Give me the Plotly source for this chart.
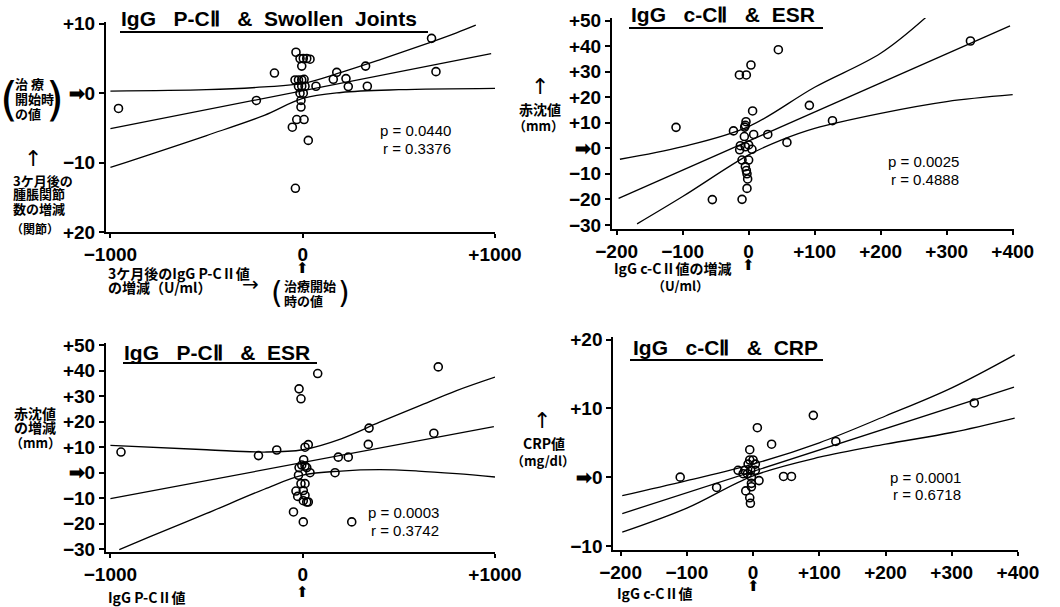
import plotly.graph_objects as go

W, H = 1060, 607


def px(x):
    return x / W


def py(y):
    return 1 - y / H


# ---------------- Panel 1: IgG P-CII & Swollen Joints ----------------
p1_x = [-958, -241, -147, -35, -14, 3, 21, 38, -5, -40, -22, -5, 7, -22, -5, 12,
        -14, 3, -9, -9, -31, 7, -54, 29, -38, 69, 159, 177, 225, 237, 327, 336, 670, 693]
p1_y = [-2.2, -1.05, 2.9, 5.9, 5.0, 5.0, 5.0, 4.9, 3.9, 1.9, 1.9, 1.9, 2.0, 1.0, 1.0, 1.0,
        0.0, 0.0, -1.05, -2.0, -3.8, -3.8, -4.9, -6.8, -13.7, 1.0, 2.0, 3.0, 2.1, 0.95, 3.9, 1.0, 7.9, 3.1]
p1_fit_x = [-1000, 980]
p1_fit_y = [-5.1, 5.7]
p1_up_x = [-1000, -500, -200, 0, 200, 400, 600, 800, 900]
p1_up_y = [0.3, 0.5, 0.9, 1.4, 3.0, 4.8, 6.7, 8.7, 9.8]
p1_lo_x = [-1000, -500, -200, 0, 200, 500, 1000]
p1_lo_y = [-10.7, -6.1, -3.2, -0.76, 0.1, 0.5, 0.7]
p1_xticks = [-1000, 0, 1000]
p1_xlabels = ["−1000", "0", "+1000"]
p1_yticks = [10, 0, -10, -20]
p1_ylabels = ["+10", "➡0", "−10", "+20"]
p1_stats = ["p = 0.0440", "r = 0.3376"]

# ---------------- Panel 2: IgG c-CII & ESR ----------------
p2_x = [-110, -23, -55, -14, -3.5, 3.5, 45, 336, 6, -4, -5, -6, -6.5, 7.6, 29, 58, 92, 127,
        -12.6, -5, 0, 5, -13.6, -10, 0, -5, -3.5, -2.5, -1.5, -2.5, -10]
p2_y = [8.2, 6.8, -20.1, 28.7, 28.7, 32.6, 38.6, 42, 14.6, 10.4, 9, 8.3, 4.6, 5.4, 5.4, 2.3, 16.8, 10.8,
        1, 0.6, 1.3, -0.4, -0.6, -4.6, -4.6, -7.2, -8.7, -10, -12, -15.7, -20]
p2_fit_x = [-197, 396]
p2_fit_y = [-19.6, 47.9]
p2_up_x = [-195, -100, 0, 100, 200, 270]
p2_up_y = [-4.3, 0.65, 8.5, 23.9, 37.2, 51.6]
p2_lo_x = [-169, -100, 0, 50, 100, 200, 300, 400]
p2_lo_y = [-29.6, -18.9, -2.6, 3.3, 7.8, 13.7, 18.3, 21.0]
p2_xticks = [-200, -100, 0, 100, 200, 300, 400]
p2_xlabels = ["−200", "−100", "0", "+100", "+200", "+300", "+400"]
p2_yticks = [50, 40, 30, 20, 10, 0, -10, -20, -30]
p2_ylabels = ["+50", "+40", "+30", "+20", "+10", "➡0", "−10", "−20", "−30"]
p2_stats = ["p = 0.0025", "r = 0.4888"]

# ---------------- Panel 3: IgG P-CII & ESR ----------------
p3_x = [-945, -230, -135, -19, -9, 78, 705, 345, 341, 682, 12, 29, 185, 237, 168, 255, 5, -5, 12,
        -19, 21, 38, -22, -9, 12, -35, 3, -26, 12, 3, 21, 29, -48, 3]
p3_y = [8.1, 6.7, 8.9, 32.9, 29, 38.9, 41.5, 17.5, 11.1, 15.5, 10, 11, 6.1, 6.1, 0, -19.3, 5.1, 3, 2.6,
        2, 2, 0, -1, -4.3, -4.3, -7.2, -7, -9.3, -8.9, -11, -11.5, -11.5, -15.4, -19.3]
p3_fit_x = [-1000, 994]
p3_fit_y = [-10.2, 18.1]
p3_up_x = [-1000, -500, -200, 0, 200, 400, 600, 800, 1000]
p3_up_y = [10.7, 9.0, 8.1, 9.0, 13.3, 19.8, 26.0, 32.2, 37.5]
p3_lo_x = [-954, -800, -500, -200, 0, 200, 400, 600, 800, 1000]
p3_lo_y = [-30.2, -25.3, -16.0, -6.5, -1.0, 0.65, 1.2, 0.65, -0.4, -1.7]
p3_xticks = p1_xticks
p3_xlabels = p1_xlabels
p3_yticks = p2_yticks
p3_ylabels = p2_ylabels
p3_stats = ["p = 0.0003", "r = 0.3742"]

# ---------------- Panel 4: IgG c-CII & CRP ----------------
p4_x = [-110, -55, 6.5, 28, 91, 125, 334, 46, 58, -5, -5, 0, -7.5, 3.5, -22.6, -12.6, -3.5, 3.5,
        -15, -8.5, -2.5, 9, -2.5, -2.5, -11, -5, -4]
p4_y = [0, -1.5, 7.2, 4.8, 9.0, 5.2, 10.8, 0.1, 0.1, 4.0, 2.5, 2.5, 1.9, 1.9, 1.0, 1.0, 1.0, 1.0,
        0.5, 0.5, 0, -0.5, -0.9, -1.4, -2, -3, -3.8]
p4_fit_x = [-197.5, 394]
p4_fit_y = [-5.3, 13.1]
p4_up_x = [-197.5, -100, 0, 100, 200, 300, 395]
p4_up_y = [-2.7, -0.5, 1.9, 5.0, 8.9, 13.0, 17.8]
p4_lo_x = [-197.5, -100, 0, 100, 200, 300, 395]
p4_lo_y = [-8.0, -4.5, 0.2, 2.9, 4.8, 6.5, 8.6]
p4_xticks = p2_xticks
p4_xlabels = p2_xlabels
p4_yticks = [20, 10, 0, -10]
p4_ylabels = ["+20", "+10", "➡0", "−10"]
p4_stats = ["p = 0.0001", "r = 0.6718"]

NB = "\u00a0"
titles = [f"IgG{NB*3}P-CⅡ{NB*3}&{NB*2}Swollen{NB*2}Joints", f"IgG{NB*3}c-CⅡ{NB*3}&{NB*2}ESR",
          f"IgG{NB*3}P-CⅡ{NB*3}&{NB*2}ESR", f"IgG{NB*3}c-CⅡ{NB*3}&{NB*2}CRP"]

fig = go.Figure()

panels = [
    ("x", "y", p1_x, p1_y, p1_fit_x, p1_fit_y, p1_up_x, p1_up_y, p1_lo_x, p1_lo_y),
    ("x2", "y2", p2_x, p2_y, p2_fit_x, p2_fit_y, p2_up_x, p2_up_y, p2_lo_x, p2_lo_y),
    ("x3", "y3", p3_x, p3_y, p3_fit_x, p3_fit_y, p3_up_x, p3_up_y, p3_lo_x, p3_lo_y),
    ("x4", "y4", p4_x, p4_y, p4_fit_x, p4_fit_y, p4_up_x, p4_up_y, p4_lo_x, p4_lo_y),
]

for xa, ya, sx, sy, fx, fy, ux, uy, lx, ly in panels:
    for lxs, lys in ((fx, fy), (ux, uy), (lx, ly)):
        fig.add_trace(go.Scatter(x=lxs, y=lys, xaxis=xa, yaxis=ya, mode="lines",
                                 line=dict(color="black", width=1.3, shape="spline", smoothing=1.0),
                                 hoverinfo="skip", showlegend=False))
    fig.add_trace(go.Scatter(x=sx, y=sy, xaxis=xa, yaxis=ya, mode="markers",
                             marker=dict(symbol="circle-open", size=8, color="black",
                                         line=dict(width=1.6, color="black")),
                             showlegend=False))

TICKFONT = dict(family="Liberation Sans, Arial, sans-serif", size=19, color="black", weight="bold")


def xaxis(dom, rng, tv, tt, anchor):
    return dict(domain=dom, range=rng, tickvals=tv, ticktext=tt, anchor=anchor,
                showline=True, linecolor="black", linewidth=2, ticks="outside",
                ticklen=4, tickwidth=1.5, tickcolor="black", showgrid=False,
                zeroline=False, tickfont=TICKFONT, fixedrange=True, automargin=False)


def yaxis(dom, rng, tv, tt, anchor):
    return dict(domain=dom, range=rng, tickvals=tv, ticktext=tt, anchor=anchor,
                showline=True, linecolor="black", linewidth=2, ticks="outside",
                ticklen=5, tickwidth=1.5, tickcolor="black", showgrid=False,
                zeroline=False, tickfont=TICKFONT, fixedrange=True, automargin=False)


fig.update_layout(
    template="none",
    width=W, height=H, margin=dict(l=0, r=0, t=0, b=0, autoexpand=False),
    paper_bgcolor="white", plot_bgcolor="white", showlegend=False,
    xaxis=xaxis([px(106), px(495)], [-1023, 1000], p1_xticks, p1_xlabels, "y"),
    yaxis=yaxis([py(232), py(21.7)], [-20, 10.3], p1_yticks, p1_ylabels, "x"),
    xaxis2=xaxis([px(612), px(1014)], [-207, 402], p2_xticks, p2_xlabels, "y2"),
    yaxis2=yaxis([py(229), py(18)], [-31.6, 51], p2_yticks, p2_ylabels, "x2"),
    xaxis3=xaxis([px(106), px(495)], [-1023, 1000], p3_xticks, p3_xlabels, "y3"),
    yaxis3=yaxis([py(551.7), py(342.7)], [-31, 51], p3_yticks, p3_ylabels, "x3"),
    xaxis4=xaxis([px(613.3), px(1018)], [-211, 400], p4_xticks, p4_xlabels, "y4"),
    yaxis4=yaxis([py(550), py(337)], [-10.6, 20.4], p4_yticks, p4_ylabels, "x4"),
)

JP = "Noto Sans CJK JP, sans-serif"
ann = []


def text(t, x, y, size=14, anchor="left", family=JP, bold=True, xref="paper"):
    s = f"<b>{t}</b>" if bold else t
    ann.append(dict(text=s, x=(x if xref != "paper" else px(x)), y=py(y),
                    xref=xref, yref="paper", xanchor=anchor, yanchor="middle",
                    showarrow=False, borderpad=0,
                    font=dict(family=family, size=size, color="black")))


SANS = "Liberation Sans, Arial, sans-serif"
DJ = "DejaVu Sans, sans-serif"

# titles
title_pos = [(120, 18), (630, 14), (123, 352), (632, 347)]
for t, (x, y) in zip(titles, title_pos):
    text(t, x, y, size=21, family=SANS)
underlines = [(120, 428, 32), (629, 823, 28), (123, 317, 363), (630, 823, 360)]
shapes = [dict(type="line", xref="paper", yref="paper", x0=px(a), x1=px(b), y0=py(c), y1=py(c),
               line=dict(color="black", width=1.8)) for a, b, c in underlines]

# statistics
stats_pos = [(452, 131, 148), (960, 161, 179), (440, 512, 530), (962, 477, 494)]
for st, (x, y1, y2) in zip([p1_stats, p2_stats, p3_stats, p4_stats], stats_pos):
    text(st[0], x, y1, size=15, anchor="right", family=SANS, bold=False)
    text(st[1], x, y2, size=15, anchor="right", family=SANS, bold=False)

# panel 1 labels
text("(", 9, 99, size=46, anchor="center", family=DJ, bold=False)
text(")", 55, 99, size=46, anchor="center", family=DJ, bold=False)
text("治 療", 14, 83, size=13)
text("開始時", 14, 98, size=13)
text("の値", 14, 113, size=13)
text("↑", 33, 158, size=22, anchor="center", family=DJ, bold=False)
text("3ケ月後の", 12, 180, size=13)
text("腫脹関節", 12, 194, size=13)
text("数の増減", 12, 208, size=13)
text("（関節）", 10, 228, size=12)
text("3ケ月後のIgG P-CⅡ値", 107, 273, size=14)
text("の増減（U/ml）", 107, 287, size=14)
text("→", 250, 284, size=20, anchor="center", family=DJ, bold=False)
text("⬆", 0, 268, size=15, anchor="center", family=DJ, bold=False, xref="x")
text("(", 277, 292, size=30, anchor="center", family=DJ, bold=False)
text(")", 344, 292, size=30, anchor="center", family=DJ, bold=False)
text("治療開始", 283, 286, size=13)
text("時の値", 283, 300, size=13)

# panel 2 labels
text("↑", 540, 86, size=22, anchor="center", family=DJ, bold=False)
text("赤沈値", 540, 109, size=14, anchor="center")
text("（mm）", 538, 125, size=13, anchor="center")
text("IgG c-CⅡ値の増減", 613, 268, size=14)
text("⬆", 0, 265, size=15, anchor="center", family=DJ, bold=False, xref="x2")
text("（U/ml）", 680, 285, size=13, anchor="center")

# panel 3 labels
text("赤沈値", 35, 413, size=14, anchor="center")
text("の増減", 35, 427, size=14, anchor="center")
text("（mm）", 35, 442, size=13, anchor="center")
text("IgG P-CⅡ値", 107, 597, size=14)
text("⬆", 0, 592, size=15, anchor="center", family=DJ, bold=False, xref="x3")

# panel 4 labels
text("↑", 542, 420, size=22, anchor="center", family=DJ, bold=False)
text("CRP値", 544, 443, size=14, anchor="center")
text("（mg/dl）", 543, 460, size=13, anchor="center")
text("IgG c-CⅡ値", 616, 593, size=14)
text("⬆", 0, 586, size=15, anchor="center", family=DJ, bold=False, xref="x4")

fig.update_layout(annotations=ann, shapes=shapes)
fig.write_html("out.html", config={"displayModeBar": False},
               post_script="document.body.style.margin='0';")
